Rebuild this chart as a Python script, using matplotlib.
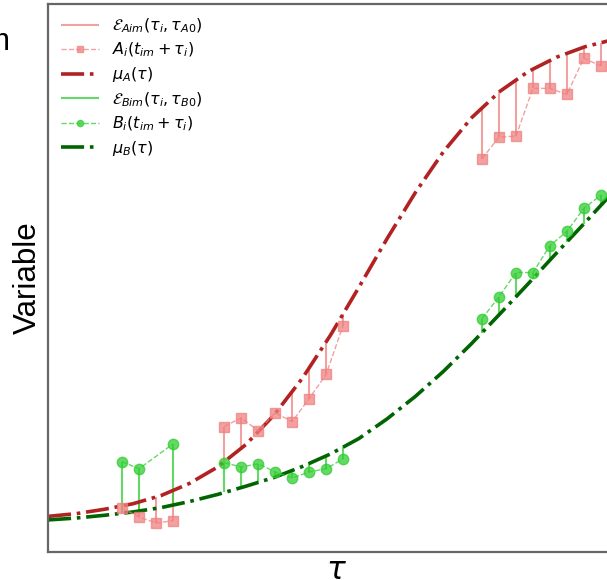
import matplotlib.pyplot as plt
import numpy as np

plt.rcParams.update(
    {
        "font.family": "Liberation Sans",
        "mathtext.fontset": "dejavusans",
        "figure.facecolor": "white",
        "axes.facecolor": "white",
    }
)

# mean curves on a grid of tau
tau_grid = [0.0, 0.5, 1.0, 1.5, 2.0, 2.5, 3.0, 3.5, 4.0, 4.5, 5.0,
            5.5, 6.0, 6.5, 7.0, 7.5, 8.0, 8.5, 9.0, 9.5, 10.0]
mu_A = [0.65, 0.70, 0.78, 0.88, 1.03, 1.25, 1.55, 1.96, 2.50, 3.17, 3.96,
        4.83, 5.72, 6.56, 7.31, 7.93, 8.41, 8.77, 9.03, 9.22, 9.35]
mu_B = [0.585, 0.62, 0.67, 0.73, 0.81, 0.92, 1.05, 1.20, 1.36, 1.56, 1.79,
        2.07, 2.43, 2.84, 3.30, 3.81, 4.35, 4.90, 5.46, 6.01, 6.57]

# observed individuals (three groups)
A_tau = [
    [1.31, 1.61, 1.91, 2.21],
    [3.12, 3.42, 3.72, 4.02, 4.32, 4.62, 4.92, 5.22],
    [7.68, 7.98, 8.28, 8.58, 8.88, 9.18, 9.48, 9.78],
]
A_val = [
    [0.80, 0.64, 0.53, 0.57],
    [2.29, 2.45, 2.21, 2.54, 2.38, 2.80, 3.24, 4.13],
    [7.18, 7.57, 7.59, 8.46, 8.46, 8.35, 9.01, 8.87],
]
B_tau = [
    [1.31, 1.61, 2.21],
    [3.12, 3.42, 3.72, 4.02, 4.32, 4.62, 4.92, 5.22],
    [7.68, 7.98, 8.28, 8.58, 8.88, 9.18, 9.48, 9.78],
]
B_val = [
    [1.65, 1.52, 1.97],
    [1.63, 1.55, 1.61, 1.46, 1.35, 1.46, 1.52, 1.70],
    [4.26, 4.66, 5.10, 5.10, 5.59, 5.85, 6.27, 6.51],
]

COL_A = "lightcoral"
COL_B = "limegreen"
COL_MA = "firebrick"
COL_MB = "darkgreen"


def draw_group(ax, taus, vals, grid, mu, col, marker, ms, lab_e, lab_p):
    for k, (t, v) in enumerate(zip(taus, vals)):
        t = np.asarray(t)
        base = np.interp(t, grid, mu)
        ax.vlines(t, base, v, color=col, lw=1.5, alpha=0.75, zorder=1,
                  label=lab_e if k == 0 else None)
        ax.plot(t, v, ls="--", lw=1.0, marker=marker, ms=ms, color=col, alpha=0.75,
                zorder=3, label=lab_p if k == 0 else None)


fig = plt.figure(figsize=(6.07, 5.80), dpi=100)
ax = fig.add_axes([48 / 607, 28 / 580, 572 / 607, 548 / 580])

draw_group(ax, A_tau, A_val, tau_grid, mu_A, COL_A, "s", 7,
           r"$\mathcal{E}_{Aim}(\tau_i, \tau_{A0})$", r"$A_i(t_{im} + \tau_i)$")
ax.plot(tau_grid, mu_A, ls="-.", lw=2.6, color=COL_MA, zorder=2, label=r"$\mu_A(\tau)$")
draw_group(ax, B_tau, B_val, tau_grid, mu_B, COL_B, "o", 7.5,
           r"$\mathcal{E}_{Bim}(\tau_i, \tau_{B0})$", r"$B_i(t_{im} + \tau_i)$")
ax.plot(tau_grid, mu_B, ls="-.", lw=2.6, color=COL_MB, zorder=2, label=r"$\mu_B(\tau)$")

ax.set_xlim(0, 10.12)
ax.set_ylim(0, 10.0)
ax.set_xticks([])
ax.set_yticks([])
for sp in ax.spines.values():
    sp.set_color("#666666")
    sp.set_linewidth(1.6)

ax.set_ylabel("Variable", fontsize=22.5)
ax.yaxis.set_label_coords(-0.009, 0.5)
ax.set_xlabel(r"$\tau$", fontsize=22.5)
ax.xaxis.set_label_coords(0.505, -0.008)

ax.legend(loc="upper left", frameon=False, fontsize=11.5, handlelength=2.4,
          labelspacing=0.37, borderaxespad=0.4, markerscale=0.6,
          bbox_to_anchor=(0.0, 1.0))

fig.text(10 / 607, 1 - 50 / 580, "m", fontsize=22.5, ha="right", va="baseline")

fig.savefig("out.png", dpi=100)
